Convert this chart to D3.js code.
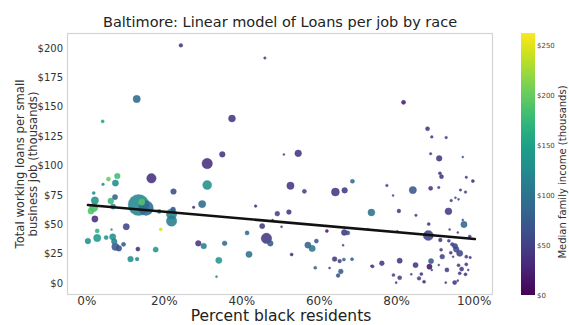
<!DOCTYPE html>
<html>
<head>
<meta charset="utf-8">
<script src="https://cdn.jsdelivr.net/npm/d3@7"></script>
<style>
  html, body { margin: 0; padding: 0; background: #fff; }
  svg { display: block; font-family: "DejaVu Sans", sans-serif; }
</style>
</head>
<body>
<svg id="chart" width="569" height="325"></svg>
<script>
// Census tracts: share of black residents (%), loans per small-business job ($K),
// median family income ($K) and number of small-business jobs (marker size).
const pctBlack = [
  24.4, 46.1, 13.0, 4.2, 37.6, 35.1, 31.2, 81.9, 88.1, 89.2,
  92.9, 51.0, 54.7, 88.9, 91.1, 97.2, 91.3, 91.7, 98.1, 99.8,
  31.2, 16.8, 8.0, 5.7, 7.5, 4.3, 1.9, 22.5, 7.4, 2.2,
  6.3, 13.5, 15.4, 14.3, 29.9, 1.9, 1.2, 6.9, 18.8, 22.4,
  22.0, 22.0, 2.2, 10.3, 19.2, 2.8, 6.5, 2.8, 0.4, 5.1,
  6.8, 7.2, 7.5, 8.4, 9.6, 13.3, 17.9, 11.4, 13.1, 28.9,
  30.3, 35.7, 34.2, 33.6, 27.7, 43.7, 41.5, 42.0, 46.5, 47.5,
  49.3, 48.1, 50.4, 45.4, 52.3, 52.7, 56.3, 64.3, 66.7, 68.7,
  77.6, 79.2, 84.3, 88.9, 91.0, 96.6, 97.9, 94.2, 95.3, 96.1,
  73.6, 80.7, 85.1, 93.5, 97.2, 97.5, 88.4, 93.8, 95.9, 99.0,
  88.3, 91.4, 93.6, 94.5, 95.2, 95.5, 91.6, 96.4, 94.1, 98.1,
  99.1, 91.9, 94.7, 73.9, 76.3, 80.9, 85.0, 89.0, 88.6, 91.0,
  93.1, 96.1, 96.9, 98.1, 98.6, 79.3, 80.9, 83.9, 86.5, 85.9,
  87.2, 89.2, 92.8, 95.1, 95.9, 96.4, 97.9, 80.0, 62.1, 66.6,
  67.5, 72.7, 80.3, 57.2, 58.3, 59.4, 66.3, 53.0, 64.1, 65.4,
  66.5, 68.6, 59.1, 62.8, 65.7, 65.0, 73.6
];
const loansPerJob = [
  202.3, 191.5, 156.6, 137.6, 140.0, 109.5, 101.7, 153.8, 131.3, 124.3,
  123.8, 109.4, 110.4, 110.0, 106.1, 107.2, 93.4, 90.5, 90.0, 86.8,
  83.4, 89.1, 91.1, 88.5, 85.1, 84.0, 76.6, 77.9, 73.2, 70.2,
  69.8, 66.4, 63.8, 68.9, 67.2, 64.3, 61.3, 65.1, 60.9, 62.6,
  58.7, 52.8, 54.5, 47.9, 45.7, 44.3, 45.5, 38.3, 35.7, 38.7,
  39.3, 35.3, 30.8, 29.5, 32.9, 28.9, 28.5, 20.4, 20.4, 33.8,
  31.5, 33.8, 19.3, 5.4, 64.4, 65.5, 42.6, 24.4, 38.0, 33.8,
  59.0, 53.6, 47.9, 48.5, 60.4, 82.8, 78.0, 77.4, 78.9, 86.6,
  83.0, 74.5, 79.1, 80.6, 81.3, 79.1, 77.4, 70.2, 72.6, 71.2,
  60.0, 61.3, 57.6, 61.0, 53.6, 49.8, 50.2, 45.5, 43.0, 39.6,
  40.4, 36.6, 36.0, 32.9, 31.5, 28.7, 28.3, 25.3, 25.8, 22.4,
  21.7, 22.4, 22.4, 14.2, 16.8, 19.0, 15.3, 18.7, 13.9, 15.3,
  11.1, 15.1, 11.9, 15.9, 11.1, 6.8, 4.5, 7.4, 7.7, 4.0,
  1.1, 11.1, 0.3, 0.4, 2.0, 8.3, 7.4, 0.3, 44.3, 43.0,
  42.6, 45.7, 44.0, 32.3, 29.4, 35.7, 32.1, 24.3, 20.4, 18.7,
  20.0, 20.3, 13.0, 12.8, 9.8, 6.4, 14.5
];
const medianIncome = [
  40, 60, 90, 150, 40, 40, 35, 20, 40, 50,
  55, 60, 40, 50, 40, 70, 40, 40, 50, 30,
  130, 35, 180, 200, 125, 130, 130, 60, 80, 135,
  175, 120, 90, 190, 90, 185, 190, 110, 120, 70,
  115, 110, 35, 55, 245, 170, 140, 140, 130, 135,
  130, 110, 70, 65, 75, 30, 140, 130, 120, 40,
  115, 90, 140, 110, 30, 30, 90, 100, 40, 75,
  50, 50, 40, 45, 40, 40, 55, 40, 45, 95,
  60, 60, 70, 40, 50, 50, 55, 50, 55, 60,
  95, 40, 50, 45, 60, 85, 40, 50, 50, 40,
  55, 45, 50, 55, 55, 60, 50, 55, 45, 50,
  40, 50, 50, 45, 45, 40, 40, 75, 15, 60,
  45, 45, 40, 40, 45, 55, 50, 40, 40, 55,
  30, 60, 40, 40, 50, 45, 45, 40, 20, 40,
  65, 40, 50, 80, 105, 70, 50, 30, 40, 50,
  75, 80, 85, 40, 75, 60, 50
];
const businessJobs = [
  130, 58, 490, 90, 436, 292, 1000, 160, 160, 68,
  68, 40, 410, 58, 292, 40, 90, 160, 58, 90,
  740, 810, 292, 160, 360, 68, 90, 292, 250, 490,
  314, 4000, 1960, 360, 490, 640, 360, 250, 160, 212,
  1000, 1000, 360, 360, 90, 160, 40, 490, 292, 160,
  360, 292, 490, 292, 160, 160, 250, 292, 130, 292,
  292, 212, 360, 40, 58, 68, 160, 360, 1000, 292,
  212, 40, 40, 250, 212, 490, 160, 578, 292, 160,
  68, 40, 490, 160, 58, 58, 68, 68, 40, 40,
  436, 130, 58, 436, 40, 360, 90, 40, 40, 90,
  922, 130, 90, 130, 250, 292, 90, 360, 90, 90,
  58, 212, 40, 90, 212, 250, 250, 250, 250, 40,
  160, 90, 160, 90, 40, 90, 160, 40, 90, 130,
  90, 40, 40, 160, 40, 90, 90, 40, 90, 314,
  160, 40, 40, 360, 360, 160, 40, 90, 212, 130,
  90, 90, 90, 40, 212, 130, 40
];

// Fitted linear model: loans = intercept + slope * (pct / 100)
const fitIntercept = 66.5;
const fitSlope = -29;
const fitRange = [0.4, 100.3];

const xTicks = [0, 20, 40, 60, 80, 100];
const yTicks = [0, 25, 50, 75, 100, 125, 150, 175, 200];
const incomeTicks = [0, 50, 100, 150, 200, 250];

const title = "Baltimore: Linear model of Loans per job by race";
const xLabel = "Percent black residents";
const yLabelLines = ["Total working loans per small", "business job (thousands)"];
const colorLabel = "Median family income (thousands)";

// ---- layout ----
const svg = d3.select("#chart");
const plot = { left: 67, right: 493, top: 33, bottom: 295 };
const bar = { left: 521, width: 14, top: 33, bottom: 295 };

const x = d3.scaleLinear().domain([-5, 105]).range([plot.left, plot.right]);
const y = d3.scaleLinear().domain([-10.2, 212.8]).range([plot.bottom, plot.top]);
const incomeDomain = [0, 262];
const color = d3.scaleSequential(d3.interpolateViridis).domain(incomeDomain);
const radius = d3.scaleSqrt().domain([0, 4000]).range([0, 10.5]);

const points = pctBlack.map((p, i) => ({
  pct: p, loans: loansPerJob[i], income: medianIncome[i], jobs: businessJobs[i]
})).sort((a, b) => b.jobs - a.jobs);

// frame
svg.append("rect")
  .attr("x", plot.left + 0.5).attr("y", plot.top + 0.5)
  .attr("width", plot.right - plot.left - 1).attr("height", plot.bottom - plot.top - 1)
  .attr("fill", "#fff").attr("stroke", "#d4d4d4").attr("stroke-width", 1.2);

// axes (labels only, no tick marks)
const xAxis = svg.append("g")
  .attr("transform", `translate(0,${plot.bottom})`)
  .call(d3.axisBottom(x).tickValues(xTicks).tickSize(0).tickPadding(1).tickFormat(d => d + "%"));
xAxis.select(".domain").remove();
xAxis.selectAll("text").attr("font-size", 12).attr("fill", "#333").attr("font-family", "DejaVu Sans");

const yAxis = svg.append("g")
  .attr("transform", `translate(${plot.left},0)`)
  .call(d3.axisLeft(y).tickValues(yTicks).tickSize(0).tickPadding(4).tickFormat(d => "$" + d));
yAxis.select(".domain").remove();
yAxis.selectAll("text").attr("font-size", 10).attr("fill", "#333").attr("font-family", "DejaVu Sans");

// scatter
svg.append("g")
  .selectAll("circle")
  .data(points)
  .join("circle")
  .attr("cx", d => x(d.pct))
  .attr("cy", d => y(d.loans))
  .attr("r", d => radius(d.jobs))
  .attr("fill", d => color(d.income))
  .attr("fill-opacity", 0.88)
  .attr("stroke", d => color(d.income))
  .attr("stroke-opacity", 0.45)
  .attr("stroke-width", 0.8);

// regression line
svg.append("line")
  .attr("x1", x(fitRange[0])).attr("y1", y(fitIntercept + fitSlope * fitRange[0] / 100))
  .attr("x2", x(fitRange[1])).attr("y2", y(fitIntercept + fitSlope * fitRange[1] / 100))
  .attr("stroke", "#111").attr("stroke-width", 2.6).attr("stroke-linecap", "round");

// titles
svg.append("text")
  .attr("x", 280).attr("y", 27)
  .attr("text-anchor", "middle").attr("font-size", 14.5).attr("fill", "#222")
  .text(title);

svg.append("text")
  .attr("x", 281).attr("y", 321.2)
  .attr("text-anchor", "middle").attr("font-size", 15.5).attr("fill", "#222")
  .text(xLabel);

const yl = svg.append("text")
  .attr("transform", "translate(24,164) rotate(-90)")
  .attr("text-anchor", "middle").attr("font-size", 11.6).attr("fill", "#333");
yLabelLines.forEach((line, i) => {
  yl.append("tspan").attr("x", 0).attr("dy", i === 0 ? 0 : 12.5).text(line);
});

// color bar
const defs = svg.append("defs");
const grad = defs.append("linearGradient")
  .attr("id", "viridisBar").attr("x1", 0).attr("y1", 1).attr("x2", 0).attr("y2", 0);
d3.range(0, 1.0001, 0.05).forEach(t => {
  grad.append("stop").attr("offset", t).attr("stop-color", d3.interpolateViridis(t));
});
svg.append("rect")
  .attr("x", bar.left).attr("y", bar.top)
  .attr("width", bar.width).attr("height", bar.bottom - bar.top)
  .attr("fill", "url(#viridisBar)");

const cScale = d3.scaleLinear().domain(incomeDomain).range([bar.bottom, bar.top]);
const cAxis = svg.append("g")
  .attr("transform", `translate(${bar.left + bar.width},0)`)
  .call(d3.axisRight(cScale).tickValues(incomeTicks).tickSize(0).tickPadding(2).tickFormat(d => "$" + d));
cAxis.select(".domain").remove();
cAxis.selectAll("text").attr("font-size", 7).attr("fill", "#444").attr("font-family", "DejaVu Sans");

svg.append("text")
  .attr("transform", "translate(566,172) rotate(-90)")
  .attr("text-anchor", "middle").attr("font-size", 10).attr("fill", "#333")
  .text(colorLabel);
</script>
</body>
</html>
